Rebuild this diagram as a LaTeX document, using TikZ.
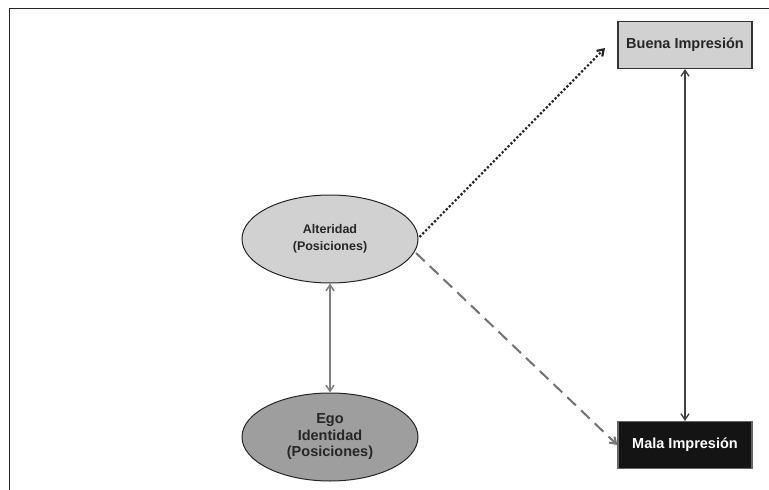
\documentclass[tikz,border=0pt]{standalone}
\usepackage{fontspec}
\setmainfont{Liberation Sans}
\usetikzlibrary{arrows.meta,shapes.geometric}
\begin{document}
\begin{tikzpicture}[x=1pt,y=-1pt,
  txt/.style={font=\bfseries\fontsize{12.5}{16.5}\selectfont, align=center, text=black!85},
  oval/.style={ellipse, draw=black!85, line width=1pt, minimum width=176pt, minimum height=88pt, inner sep=0pt, txt},
  box/.style={rectangle, draw=black!80, line width=1.2pt, minimum width=134pt, minimum height=47pt, inner sep=0pt, txt, font=\bfseries\fontsize{14.5}{16}\selectfont},
  tip/.style={-{Straight Barb[length=6pt,width=8pt]}},
  dtip/.style={{Straight Barb[length=6pt,width=8pt]}-{Straight Barb[length=6pt,width=8pt]}}
]
\useasboundingbox (0,0) rectangle (769,490);
\fill[white] (0,0) rectangle (769,490);
% frame
\draw[line width=1.5pt, black!85] (9.5,490) -- (9.5,8.5) -- (769,8.5);
% nodes
\node[oval, fill=black!18] (alt) at (330,239) {Alteridad\\(Posiciones)};
\node[oval, fill=black!38, font=\bfseries\fontsize{14.5}{16.5}\selectfont] (ego) at (330,437) {Ego\\Identidad\\(Posiciones)};
\node[box, fill=black!18] (buena) at (685,45) {Buena Impresión};
\node[box, fill=black!92, text=white, draw=black!60] (mala) at (685,445) {Mala Impresión};
\coordinate (dotend) at (605,48);
\coordinate (dashstart) at (416,253);
% connectors
\draw[dtip, black!50, line width=1.5pt] (alt.south) -- (ego.north);
\draw[dtip, black!75, line width=1.3pt] (buena.south) -- (mala.north);
\draw[tip, black!85, line width=2.2pt, dotted] (alt.east) ++(1,-2) -- (dotend);
\draw[tip, black!55, line width=2pt, dash pattern=on 12pt off 7pt] (dashstart) -- (mala.west);
\end{tikzpicture}
\end{document}
